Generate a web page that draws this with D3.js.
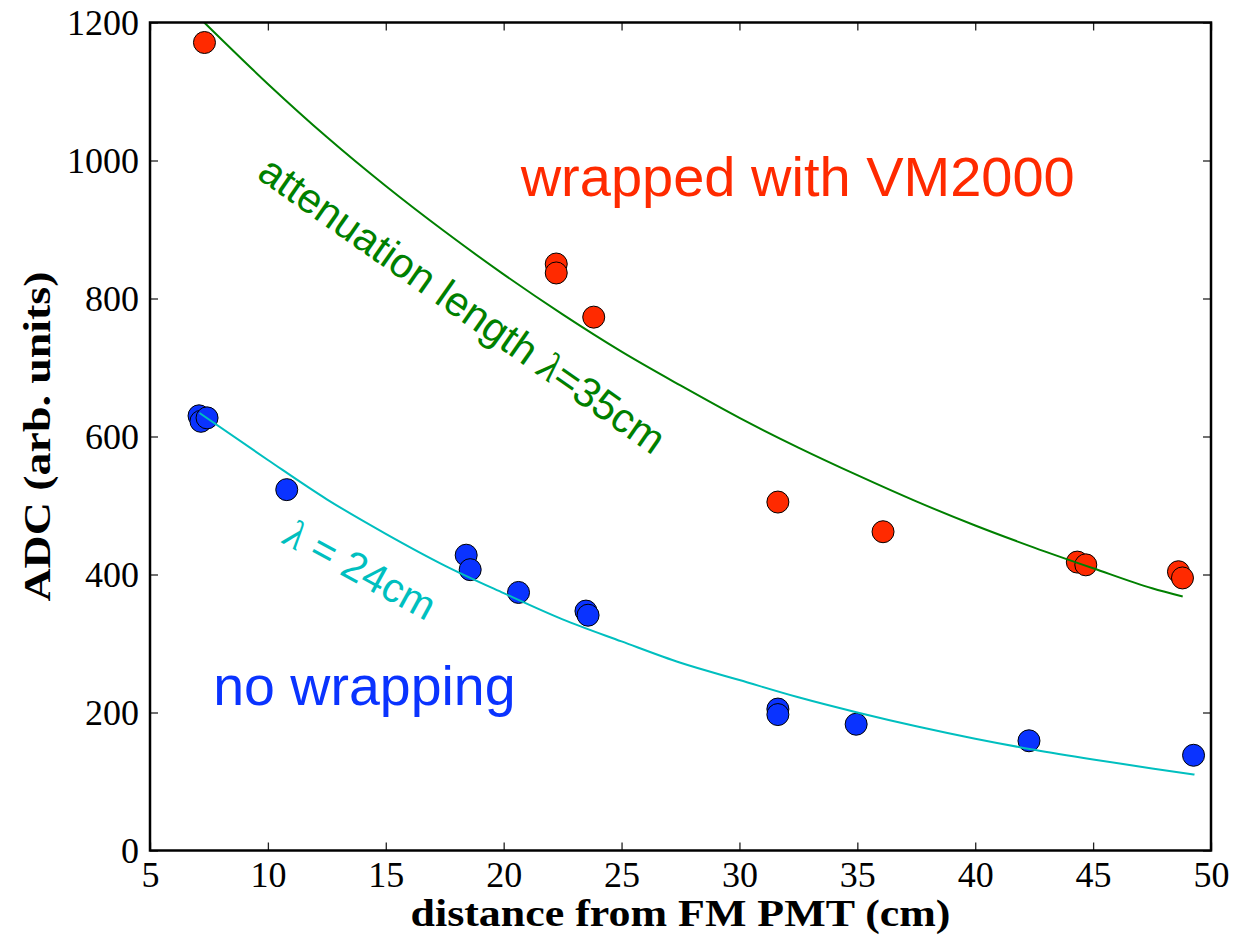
<!DOCTYPE html>
<html>
<head>
<meta charset="utf-8">
<script src="https://cdn.jsdelivr.net/npm/d3@7"></script>
<style>
  html, body { margin: 0; padding: 0; background: #fff; }
  svg { display: block; }
</style>
</head>
<body>
<svg id="chart" width="1235" height="937"></svg>
<script>
// ---- data ----
const xTicks = [5, 10, 15, 20, 25, 30, 35, 40, 45, 50];
const yTicks = [0, 200, 400, 600, 800, 1000, 1200];

// wrapped with VM2000 (red points)
const wrappedX = [7.31, 22.23, 22.23, 23.82, 31.63, 36.09, 44.33, 44.69, 48.62, 48.79];
const wrappedY = [1171, 850, 837, 773, 505, 462, 418, 414, 404, 395];

// no wrapping (blue points)
const bareX = [7.08, 7.16, 7.42, 10.80, 18.41, 18.58, 20.63, 23.49, 23.58, 31.63, 31.63, 34.95, 42.28, 49.26];
const bareY = [630, 622, 627, 523, 428, 407, 374, 347, 341, 205, 197, 183, 159, 138];

// fit curves (green: lambda = 35 cm, cyan: lambda = 24 cm)
const fit35X = [7.3, 10, 12.5, 15, 17.5, 20, 22.5, 25, 27.5, 30, 32.5, 35, 37.5, 40, 42.5, 45, 47.5, 48.8];
const fit35Y = [1200, 1111, 1034, 963, 897, 835, 777, 723, 674, 627, 584, 544, 506, 471, 439, 409, 380, 368];
const fit24X = [7.1, 10, 12.5, 15, 17.5, 20, 22.5, 25, 27.5, 30, 32.5, 35, 37.5, 40, 42.5, 45, 47.5, 49.3];
const fit24Y = [634, 566, 509, 459, 413, 373, 335, 303, 272, 247, 222, 200, 180, 162, 146, 132, 119, 110];

// ---- drawing ----
const W = 1235, H = 937;
const mLeft = 150, mRight = 1211, mTop = 22.5, mBottom = 850.5;
const svg = d3.select("#chart");
svg.append("rect").attr("width", W).attr("height", H).attr("fill", "#fff");

const x = d3.scaleLinear().domain([5, 50]).range([mLeft, mRight]);
const y = d3.scaleLinear().domain([0, 1200]).range([mBottom, mTop]);

const RED = "#ff2a00", BLUE = "#0a33ff", GREEN = "#008000", CYAN = "#00bfbf";
const serif = "'Liberation Serif', 'DejaVu Serif', serif";
const sans = "'Liberation Sans', Arial, Helvetica, sans-serif";

function styleAxis(g) {
  g.select(".domain").remove();
  g.selectAll(".tick line").attr("stroke", "#222").attr("stroke-width", 1.3);
  g.selectAll(".tick text").attr("font-family", serif).attr("font-size", 36).attr("fill", "#000");
}

svg.append("g").attr("transform", `translate(0,${mBottom})`)
  .call(d3.axisBottom(x).tickValues(xTicks).tickSize(-8).tickPadding(11).tickFormat(d3.format("d")))
  .call(styleAxis);
svg.append("g").attr("transform", `translate(${mLeft},0)`)
  .call(d3.axisLeft(y).tickValues(yTicks).tickSize(-8).tickPadding(11).tickFormat(d3.format("d")))
  .call(styleAxis);
svg.append("g").attr("transform", `translate(0,${mTop})`)
  .call(d3.axisTop(x).tickValues(xTicks).tickSize(-8).tickFormat(""))
  .call(styleAxis);
svg.append("g").attr("transform", `translate(${mRight},0)`)
  .call(d3.axisRight(y).tickValues(yTicks).tickSize(-8).tickFormat(""))
  .call(styleAxis);

// points
const plot = svg.append("g");
plot.selectAll("circle.wr").data(wrappedX.map((d, i) => [d, wrappedY[i]])).join("circle")
  .attr("class", "wr").attr("cx", d => x(d[0])).attr("cy", d => y(d[1])).attr("r", 11)
  .attr("fill", RED).attr("stroke", "#000").attr("stroke-width", 1);
plot.selectAll("circle.nw").data(bareX.map((d, i) => [d, bareY[i]])).join("circle")
  .attr("class", "nw").attr("cx", d => x(d[0])).attr("cy", d => y(d[1])).attr("r", 11)
  .attr("fill", BLUE).attr("stroke", "#000").attr("stroke-width", 1);

// fit curves
const line = d3.line().x(d => x(d[0])).y(d => y(d[1])).curve(d3.curveMonotoneX);
svg.append("path").datum(fit35X.map((d, i) => [d, fit35Y[i]]))
  .attr("d", line).attr("fill", "none").attr("stroke", GREEN).attr("stroke-width", 2);
svg.append("path").datum(fit24X.map((d, i) => [d, fit24Y[i]]))
  .attr("d", line).attr("fill", "none").attr("stroke", CYAN).attr("stroke-width", 2);

// frame
svg.append("rect").attr("x", mLeft).attr("y", mTop).attr("width", mRight - mLeft).attr("height", mBottom - mTop)
  .attr("fill", "none").attr("stroke", "#000").attr("stroke-width", 2.5);

// annotations
svg.append("text").attr("x", x(20.72)).attr("y", y(949))
  .attr("font-family", sans).attr("font-size", 56).attr("fill", RED).text("wrapped with VM2000");
svg.append("text").attr("x", x(7.68)).attr("y", y(211))
  .attr("font-family", sans).attr("font-size", 55.5).attr("fill", BLUE).text("no wrapping");

const g35 = svg.append("text")
  .attr("transform", `translate(${x(17.9)},${y(774)}) rotate(35)`)
  .attr("text-anchor", "middle").attr("font-family", sans).attr("font-size", 41.5).attr("fill", GREEN);
g35.append("tspan").text("attenuation length ");
g35.append("tspan").attr("font-family", serif).attr("font-style", "italic").text("λ");
g35.append("tspan").text("=35cm");

const g24 = svg.append("text")
  .attr("transform", `translate(${x(13.65)},${y(389)}) rotate(28.5)`)
  .attr("text-anchor", "middle").attr("font-family", sans).attr("font-size", 41).attr("fill", CYAN);
g24.append("tspan").attr("font-family", serif).attr("font-style", "italic").text("λ");
g24.append("tspan").text(" = 24cm");

// axis labels
svg.append("text").attr("x", (mLeft + mRight) / 2).attr("y", 926)
  .attr("text-anchor", "middle").attr("font-family", serif).attr("font-weight", "bold").attr("font-size", 37)
  .attr("textLength", 540).attr("lengthAdjust", "spacingAndGlyphs")
  .text("distance from FM PMT (cm)");
svg.append("text").attr("transform", `translate(50,${(mTop + mBottom) / 2}) rotate(-90)`)
  .attr("text-anchor", "middle").attr("font-family", serif).attr("font-weight", "bold").attr("font-size", 37)
  .attr("textLength", 330).attr("lengthAdjust", "spacingAndGlyphs")
  .text("ADC (arb. units)");
</script>
</body>
</html>
